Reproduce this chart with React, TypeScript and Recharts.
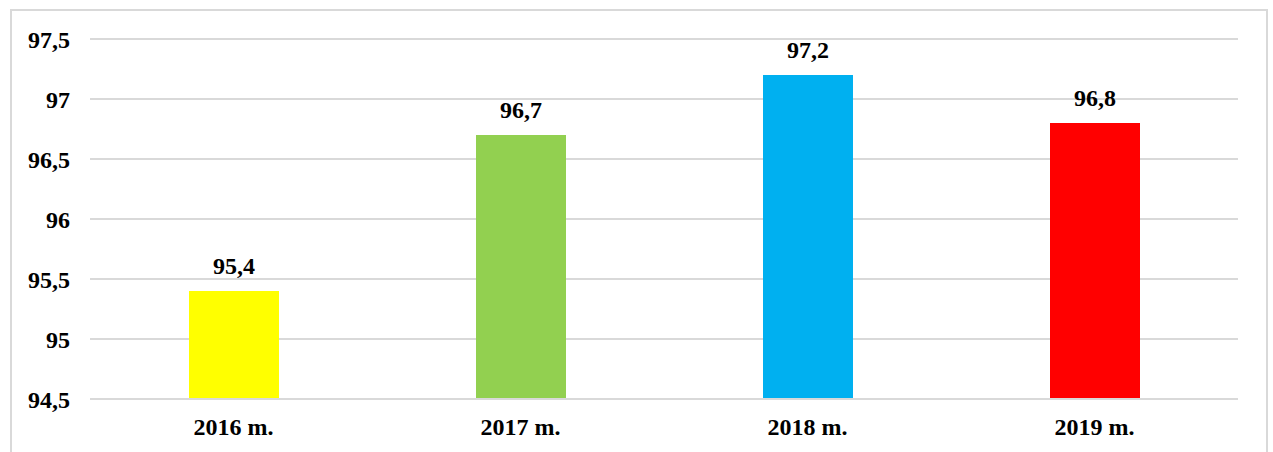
import React from "react";
import { BarChart, Bar, XAxis, YAxis, CartesianGrid, LabelList, Cell } from "recharts";

const years = ["2016 m.", "2017 m.", "2018 m.", "2019 m."];
const values = [95.4, 96.7, 97.2, 96.8];
const barColors = ["#FFFF00", "#92D050", "#00B0F0", "#FF0000"];
const yTicks = [94.5, 95, 95.5, 96, 96.5, 97, 97.5];

const data = years.map((year, i) => ({ year, value: values[i] }));

const font = "'Liberation Serif', 'Times New Roman', serif";
const fmt = (v: number) => String(v).replace(".", ",");

const App = () => {
  return (
    <div style={{ position: "absolute", left: 0, top: 0, width: 1273, height: 452, overflow: "hidden", background: "#fff" }}>
      <div
        style={{
          position: "absolute",
          left: 10,
          top: 9,
          width: 1254,
          height: 470,
          border: "2px solid #d9d9d9",
        }}
      />
      <div style={{ position: "absolute", left: 0, top: 0 }}>
        <BarChart
          width={1273}
          height={452}
          data={data}
          margin={{ top: 39, right: 35, left: 0, bottom: 23 }}
        >
          <CartesianGrid vertical={false} stroke="#d9d9d9" strokeWidth={2} />
          <XAxis
            dataKey="year"
            height={30}
            axisLine={{ stroke: "#d9d9d9", strokeWidth: 2 }}
            tickLine={false}
            tickSize={17}
            tickMargin={2}
            tick={{ fill: "#000", fontSize: 24, fontWeight: "bold", fontFamily: font }}
          />
          <YAxis
            width={90}
            domain={[94.5, 97.5]}
            ticks={yTicks}
            axisLine={false}
            tickLine={false}
            tickSize={18}
            tickMargin={2}
            tickFormatter={fmt}
            tick={{ fill: "#000", fontSize: 24, fontWeight: "bold", fontFamily: font }}
          />
          <Bar dataKey="value" barSize={90} isAnimationActive={false}>
            {data.map((d, i) => (
              <Cell key={d.year} fill={barColors[i]} />
            ))}
            <LabelList
              dataKey="value"
              content={(props: any) => {
                const { x, y, width, value } = props;
                return (
                  <text
                    x={Number(x) + Number(width) / 2}
                    y={Number(y) - 17}
                    textAnchor="middle"
                    fill="#000"
                    fontSize={24}
                    fontWeight="bold"
                    fontFamily={font}
                  >
                    {fmt(Number(value))}
                  </text>
                );
              }}
            />
          </Bar>
        </BarChart>
      </div>
    </div>
  );
};

export default App;
